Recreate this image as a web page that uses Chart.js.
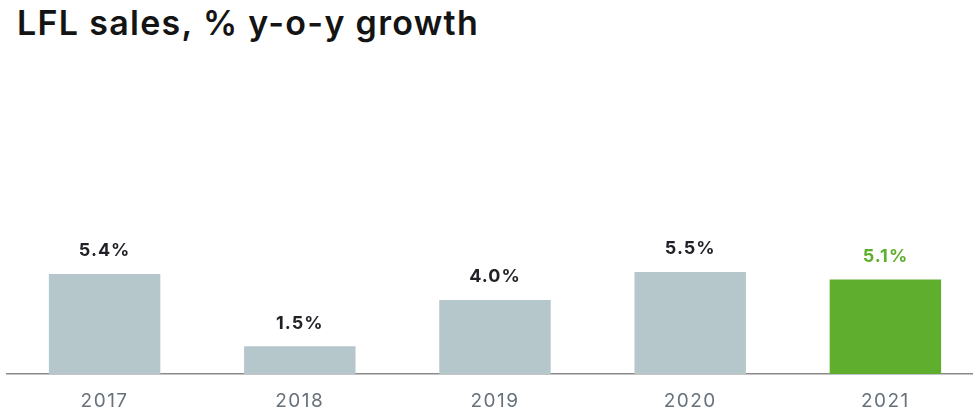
<!DOCTYPE html>
<html>
<head>
<meta charset="utf-8">
<title>LFL sales, % y-o-y growth</title>
<script src="https://cdn.jsdelivr.net/npm/chart.js@4.4.1/dist/chart.umd.min.js"></script>
<style>
  html, body { margin: 0; padding: 0; background: #fff; overflow: hidden; }
  body { width: 973px; height: 415px; position: relative; }
  #title {
    position: absolute; left: 17px; top: 6px; margin: 0;
    font-family: Inter, "Noto Sans", sans-serif; font-weight: 600;
    font-size: 34px; line-height: 1; color: #141414; letter-spacing: 1.3px;
  }
  #wrap { position: absolute; left: 0; top: 0; width: 990px; height: 415px; }
</style>
</head>
<body>
<h1 id="title">LFL sales, % y-o-y growth</h1>
<div id="wrap"><canvas id="chart"></canvas></div>
<script>
const years = ['2017', '2018', '2019', '2020', '2021'];
const lflGrowth = [5.4, 1.5, 4.0, 5.5, 5.1];
const barColors = ['#b6c7cb', '#b6c7cb', '#b6c7cb', '#b6c7cb', '#5fae2e'];
const labelColors = ['#1f2126', '#1f2126', '#1f2126', '#1f2126', '#5fae2e'];

// wider tracking for the year labels on the x axis
const tickSpacing = {
  id: 'tickSpacing',
  beforeDraw(chart) { chart.ctx.letterSpacing = '1.5px'; },
  beforeDatasetsDraw(chart) { chart.ctx.letterSpacing = '0px'; }
};

// value labels drawn just above each bar
const valueLabels = {
  id: 'valueLabels',
  afterDatasetsDraw(chart) {
    const ctx = chart.ctx;
    const meta = chart.getDatasetMeta(0);
    ctx.save();
    ctx.font = '700 18px Inter, "Noto Sans", sans-serif';
    ctx.letterSpacing = '1px';
    ctx.textAlign = 'center';
    ctx.textBaseline = 'middle';
    meta.data.forEach((bar, i) => {
      ctx.fillStyle = labelColors[i];
      ctx.fillText(lflGrowth[i].toFixed(1) + '%', bar.x, bar.y - 23);
    });
    ctx.restore();
  }
};

new Chart(document.getElementById('chart'), {
  type: 'bar',
  data: {
    labels: years,
    datasets: [{
      data: lflGrowth,
      backgroundColor: barColors,
      borderWidth: 0,
      categoryPercentage: 1,
      barPercentage: 0.571
    }]
  },
  options: {
    responsive: true,
    maintainAspectRatio: false,
    animation: false,
    layout: { padding: { left: 7, right: 7, top: 59, bottom: 0 } },
    plugins: {
      legend: { display: false },
      tooltip: { enabled: false }
    },
    scales: {
      x: {
        grid: { display: false, drawTicks: false },
        border: { display: true, color: '#8a8a8a', width: 1.5 },
        afterFit: (scale) => { scale.height = 41; },
        ticks: {
          padding: 16,
          color: '#66717b',
          font: { family: 'Inter, "Noto Sans", sans-serif', size: 19, weight: 400 }
        }
      },
      y: {
        display: false,
        min: 0,
        max: 17
      }
    }
  },
  plugins: [tickSpacing, valueLabels]
});
</script>
</body>
</html>
